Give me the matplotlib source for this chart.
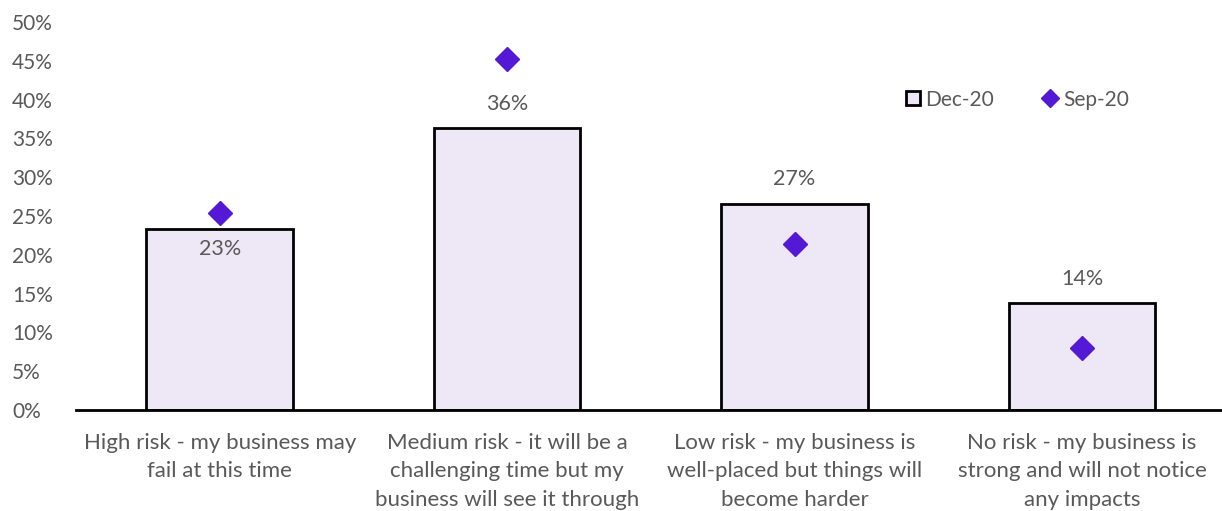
import matplotlib.pyplot as plt
from matplotlib.lines import Line2D
from matplotlib.ticker import PercentFormatter

categories = [
    "High risk - my business may\nfail at this time",
    "Medium risk - it will be a\nchallenging time but my\nbusiness will see it through",
    "Low risk - my business is\nwell-placed but things will\nbecome harder",
    "No risk - my business is\nstrong and will not notice\nany impacts",
]
dec20 = [23.3, 36.3, 26.6, 13.8]
sep20 = [25.4, 45.2, 21.4, 8.0]
dec20_labels = ["23%", "36%", "27%", "14%"]

TEXT = "#595959"
BAR_FILL = "#EDE7F6"
DIAMOND = "#5319D4"

plt.rcParams['font.family'] = ['Lato', 'DejaVu Sans']

fig = plt.figure(figsize=(12.22, 5.11), dpi=100)
ax = fig.add_axes([0.0622, 0.1977, 0.9378, 0.7593])

x = list(range(len(categories)))
ax.bar(x, dec20, width=0.51, color=BAR_FILL, edgecolor="black", linewidth=2, zorder=2)
ax.plot(x, sep20, linestyle="none", marker="D", markersize=12, color=DIAMOND, zorder=3)

# first label sits inside the bar, the others above
for i, (v, lab) in enumerate(zip(dec20, dec20_labels)):
    off = -14 if i == 0 else 17.5
    ax.annotate(lab, (i, v), xytext=(0, off), textcoords="offset points",
                ha="center", va="center", fontsize=15.5, color=TEXT)

ax.set_xlim(-0.5, 3.487)
ax.set_ylim(0, 50)
ax.set_yticks(range(0, 51, 5))
ax.yaxis.set_major_formatter(PercentFormatter(decimals=0))
ax.set_xticks(x)
ax.set_xticklabels(categories, fontsize=16, color=TEXT, linespacing=1.53, va="top")
ax.tick_params(axis="y", length=0, labelsize=15, labelcolor=TEXT, pad=46)
ax.tick_params(axis="x", length=0, pad=16.5)
for s in ["top", "right", "left"]:
    ax.spines[s].set_visible(False)
ax.spines["bottom"].set_linewidth(2)
ax.spines["bottom"].set_color("black")
for lab in ax.get_yticklabels():
    lab.set_horizontalalignment("left")

handles = [
    Line2D([], [], linestyle="none", marker="s", markersize=10, markerfacecolor=BAR_FILL,
           markeredgecolor="black", markeredgewidth=2, label="Dec-20"),
    Line2D([], [], linestyle="none", marker="D", markersize=9, color=DIAMOND, label="Sep-20"),
]
leg = ax.legend(handles=handles, loc="center", bbox_to_anchor=(0.82, 0.8), ncol=2,
                frameon=False, fontsize=15, handletextpad=0.1, columnspacing=2.2,
                handlelength=1.0)
for t in leg.get_texts():
    t.set_color(TEXT)

fig.savefig("out.png", dpi=100)
